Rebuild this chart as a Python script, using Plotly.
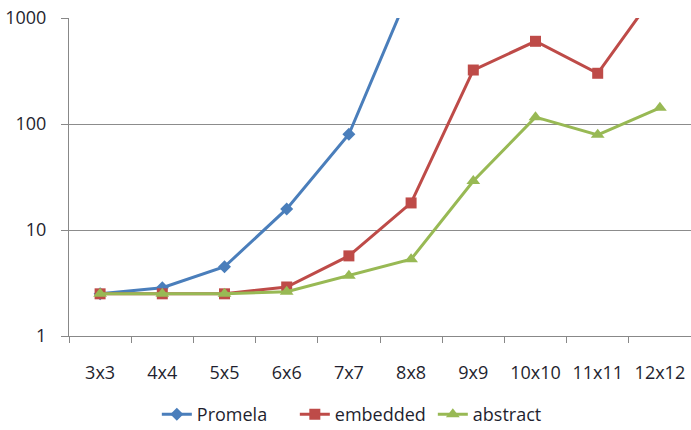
import plotly.graph_objects as go

categories = ["3x3", "4x4", "5x5", "6x6", "7x7", "8x8", "9x9", "10x10", "11x11", "12x12"]
promela = [2.5, 2.85, 4.5, 15.8, 80, 1950, None, None, None, None]
embedded = [2.5, 2.5, 2.5, 2.9, 5.7, 18, 323, 603, 301, 1960]
abstract = [2.5, 2.5, 2.5, 2.62, 3.7, 5.3, 29, 116, 79, 142]
y_ticks = [1, 10, 100, 1000]

FONT = "Open Sans"
TXT = "#1f1f2f"
FS = 18

fig = go.Figure()
fig.add_trace(go.Scatter(x=categories, y=promela, name="Promela", mode="lines+markers",
                         line=dict(color="#4A7EBB", width=3),
                         marker=dict(symbol="diamond", size=10, color="#4A7EBB"),
                         cliponaxis=True))
fig.add_trace(go.Scatter(x=categories, y=embedded, name="embedded", mode="lines+markers",
                         line=dict(color="#BE4B48", width=3),
                         marker=dict(symbol="square", size=11, color="#BE4B48"),
                         cliponaxis=True))
fig.add_trace(go.Scatter(x=categories, y=abstract, name="abstract", mode="lines+markers",
                         line=dict(color="#98B954", width=3),
                         marker=dict(symbol="triangle-up", size=12, color="#98B954"),
                         cliponaxis=True))

fig.update_layout(
    width=691, height=430,
    margin=dict(l=69, r=0, t=18, b=94, autoexpand=False),
    paper_bgcolor="white", plot_bgcolor="white",
    font=dict(family=FONT, size=FS, color=TXT),
    showlegend=True,
    legend=dict(orientation="h", xref="paper", yref="paper",
                x=0.474, xanchor="center", y=-0.247, yanchor="middle",
                font=dict(family=FONT, size=FS, color=TXT),
                entrywidth=93, entrywidthmode="pixels",
                itemwidth=30, tracegroupgap=0),
)
fig.update_xaxes(type="category", range=[-0.5, 9.5], showgrid=False, automargin=False,
                 showline=True, linecolor="#888888", linewidth=1,
                 ticks="outside", ticklen=6, tickcolor="#888888", tickson="boundaries",
                 ticklabelstandoff=20, tickfont=dict(family=FONT, size=FS, color=TXT))
fig.update_yaxes(type="log", range=[0, 3], tickvals=y_ticks, ticktext=[str(v) for v in y_ticks],
                 showgrid=True, gridcolor="#8c8c8c", gridwidth=1, automargin=False,
                 showline=True, linecolor="#888888", linewidth=1,
                 ticks="outside", ticklen=7, tickcolor="#888888",
                 ticklabelstandoff=11, tickfont=dict(family=FONT, size=FS, color=TXT),
                 zeroline=False)

fig.write_html("out.html", config={"displayModeBar": False},
               post_script="document.body.style.margin='0';document.body.style.overflow='hidden';")
